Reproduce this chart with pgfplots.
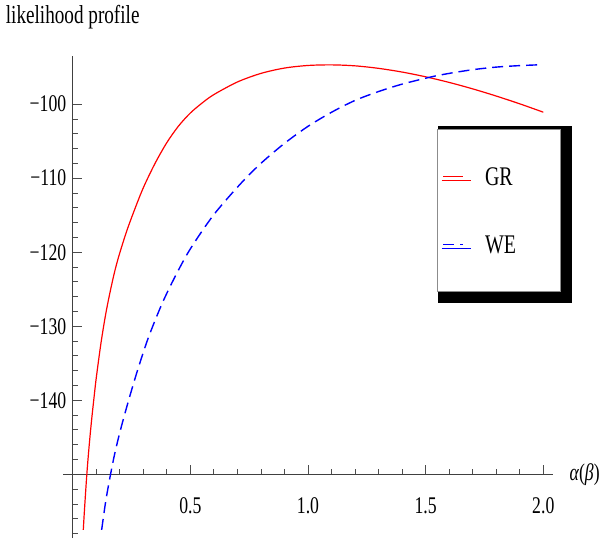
\documentclass[border=0pt]{standalone}
\usepackage{fontspec}
\setmainfont{Liberation Serif}[FakeStretch=0.74]
\usepackage{pgfplots}
\pgfplotsset{compat=1.18}
\usepackage{pgfplotstable}
\usetikzlibrary{shadows}

\pgfplotstableread{
x y
0.045 -157.5
0.050 -154.8
0.060 -150.0
0.070 -146.1
0.080 -142.75
0.090 -139.8
0.100 -137.0
0.120 -132.3
0.140 -128.4
0.160 -125.2
0.180 -122.4
0.200 -120.1
0.230 -117.1
0.260 -114.5
0.300 -111.3
0.350 -108.0
0.400 -105.2
0.450 -102.95
0.500 -101.2
0.550 -99.85
0.600 -98.71
0.700 -97.01
0.800 -95.85
0.900 -95.13
1.000 -94.78
1.100 -94.70
1.200 -94.83
1.300 -95.17
1.400 -95.67
1.500 -96.31
1.600 -97.07
1.700 -97.94
1.800 -98.91
1.900 -99.96
2.000 -101.09
}\grdata

\pgfplotstableread{
x y
0.123 -157.5
0.140 -153.7
0.159 -150.3
0.180 -147.0
0.208 -143.4
0.244 -139.3
0.279 -135.6
0.322 -131.5
0.379 -127.0
0.435 -123.3
0.499 -119.6
0.598 -115.0
0.712 -110.8
0.800 -108.0
0.900 -105.3
1.000 -103.0
1.100 -101.1
1.200 -99.5
1.300 -98.3
1.400 -97.3
1.520 -96.35
1.600 -95.85
1.700 -95.35
1.800 -95.0
1.900 -94.8
1.975 -94.7
}\wedata

\begin{document}
\begin{tikzpicture}
\useasboundingbox (0,0) rectangle (603bp,542bp);
\begin{axis}[
  at={(63.3bp,4bp)}, anchor=south west,
  scale only axis, width=489.4bp, height=482bp,
  xmin=-0.04, xmax=2.04, ymin=-8.6, ymax=56.5,
  axis lines=middle,
  axis line style={-, draw=black!75, line width=0.9bp},
  xtick={0,0.5,1,1.5,2}, xticklabels={,0.5,1.0,1.5,2.0},
  ytick={-10,0,10,20,30,40,50}, yticklabels={,,−140,−130,−120,−110,−100},
  minor x tick num=4, minor y tick num=4,
  tick align=inside,
  major tick length=9bp, minor tick length=5bp,
  every tick/.style={draw=black!70, line width=0.8bp},
  /pgf/number format/assume math mode=true,
  tick label style={font=\fontsize{24}{28}\selectfont, inner sep=0pt},
  xticklabel style={anchor=north, yshift=-23.5bp},
  yticklabel style={anchor=east, xshift=-6.3bp},
  xlabel={\textit{α}(\textit{β})},
  ylabel={likelihood profile},
  xlabel style={anchor=west, inner sep=0pt, xshift=16.6bp, font=\fontsize{24}{28}\selectfont},
  ylabel style={anchor=base, inner sep=0pt, yshift=32bp, font=\fontsize{26}{30}\selectfont},
  legend cell align=left,
  legend style={
    at={(0.763,0.8486)}, anchor=north west,
    draw=black!45, line width=0.8bp, fill=white,
    inner xsep=0pt, inner ysep=38bp,
    row sep=50bp, column sep=21bp,
    font=\fontsize{27}{30}\selectfont,
    nodes={inner sep=0pt, text height=18bp, text depth=0bp, text width=75.3bp},
    general shadow={fill=black, shadow scale=1.09, shadow xshift=5.5bp, shadow yshift=-4bp},
  },
  legend image code/.code={\path[draw=none] (0bp,0bp) -- (26.3bp,0bp); \draw[#1] (6.3bp,0bp) -- (26.3bp,0bp);},
]
\addplot[red, line width=1.2bp, smooth] table[x=x, y expr=\thisrow{y}+150] {\grdata};
\addlegendentry{GR}
\addplot[blue, line width=1.4bp, smooth, dash pattern=on 11bp off 6bp] table[x=x, y expr=\thisrow{y}+150] {\wedata};
\addlegendentry{WE}
\end{axis}
\end{tikzpicture}
\end{document}
